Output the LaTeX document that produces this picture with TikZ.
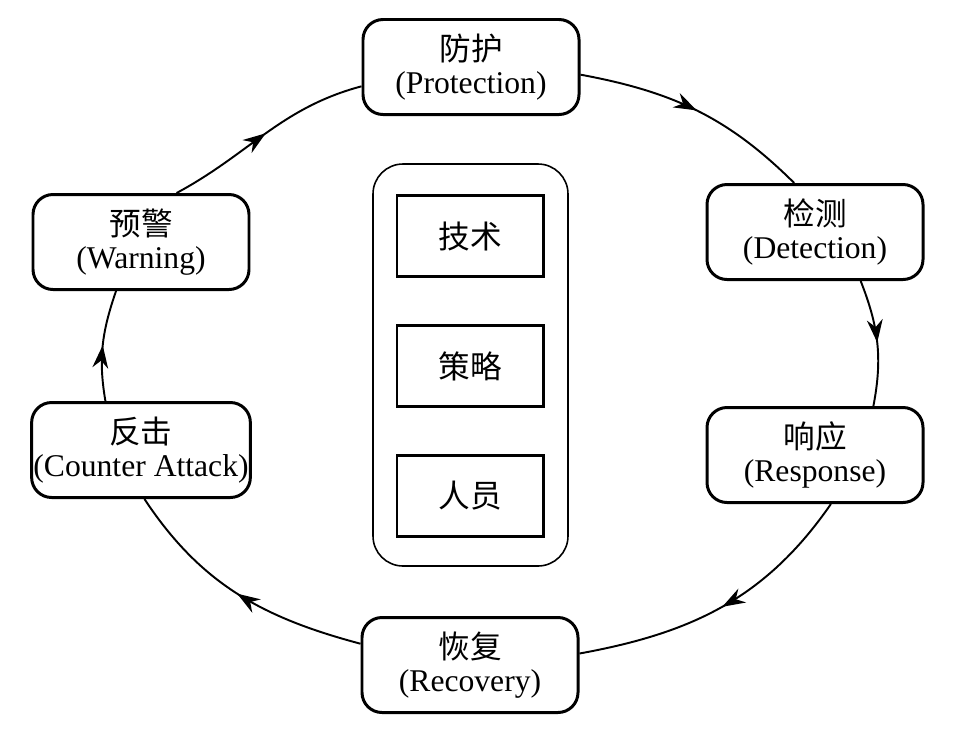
\documentclass[tikz,border=0pt]{standalone}
\usepackage{fontspec}
\setmainfont{Liberation Serif}
\newfontfamily\cjk{Noto Sans CJK SC}
\usetikzlibrary{arrows.meta, decorations.markings}

\begin{document}
\begin{tikzpicture}[
    every node/.style={font=\fontsize{18}{19}\selectfont},
    stage/.style={draw, line width=1.7pt, rounded corners=0.4cm, fill=white,
      minimum width=4.32cm, minimum height=1.9cm, align=center, inner sep=1pt},
    pillar/.style={draw, line width=1.7pt, minimum width=2.92cm, minimum height=1.62cm},
    cycle/.style={line width=1.1pt, postaction={decorate},
      decoration={markings, mark=at position 0.5 with {\arrow{Stealth[length=13pt, width=9pt]}}}}]
  \useasboundingbox (0,0) rectangle (19.08,-15);

  % six stages round the ring
  \node[stage] (prot)    at (9.42,-1.34)  {{\cjk 防护}\\(Protection)};
  \node[stage] (det)     at (16.30,-4.64) {{\cjk 检测}\\(Detection)};
  \node[stage] (resp)    at (16.30,-9.10) {{\cjk 响应}\\(Response)};
  \node[stage] (recov)   at (9.40,-13.30) {{\cjk 恢复}\\(Recovery)};
  \node[stage] (counter) at (2.82,-9.00)  {{\cjk 反击}\\(Counter Attack)};
  \node[stage] (warn)    at (2.82,-4.84)  {{\cjk 预警}\\(Warning)};

  % core: three pillars in one frame
  \node[draw, line width=0.9pt, rounded corners=0.6cm,
        minimum width=3.9cm, minimum height=8.04cm] (core) at (9.41,-7.30) {};
  \node[pillar] (tech)   at (9.40,-4.72) {\cjk 技术};
  \node[pillar] (policy) at (9.40,-7.32) {\cjk 策略};
  \node[pillar] (people) at (9.40,-9.92) {\cjk 人员};

  % ring, clockwise -- anchors and tangents follow one ellipse
  \draw[cycle] (prot.-4)       to[out=-10.5, in=135.2] (det.113);
  \draw[cycle] (det.-47.5)     to[out=-68.6, in=79.1]  (resp.40);
  \draw[cycle] (resp.-72.6)    to[out=-124.7, in=10.3] (recov.6.9);
  \draw[cycle] (recov.169)     to[out=165.1, in=-56.5] (counter.-86.4);
  \draw[cycle] (counter.126.7) to[out=99.7, in=-109]   (warn.-117.5);
  \draw[cycle] (warn.54.9)     to[out=28.3, in=-165.1] (prot.190);
\end{tikzpicture}
\end{document}
